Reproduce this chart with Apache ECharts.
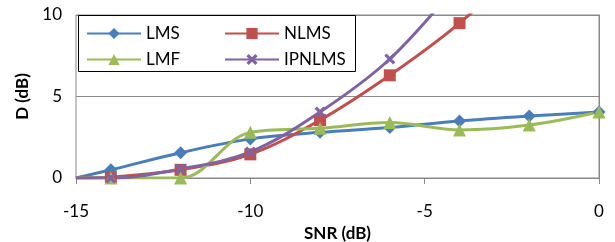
<!DOCTYPE html>
<html>
<head>
<meta charset="utf-8">
<script src="https://cdn.jsdelivr.net/npm/echarts@6/dist/echarts.min.js"></script>
<style>
  html, body { margin: 0; padding: 0; background: #fff; }
  #chart { width: 615px; height: 242px; }
</style>
</head>
<body>
<div id="chart"></div>
<script>
// SNR values (dB) on the x axis
var snr = [-15, -14, -12, -10, -8, -6, -4, -2, 0]
// D (dB) per algorithm
var lms = [0, 0.5, 1.55, 2.4, 2.8, 3.1, 3.5, 3.8, 4.05]
var nlms = [0, 0.05, 0.5, 1.45, 3.55, 6.3, 9.5, 13.5, 18]
var lmf = [0, 0, 0, 2.8, 3.05, 3.4, 2.95, 3.25, 4.05]
var ipnlms = [0, 0, 0.55, 1.6, 4.05, 7.3, 12, 17, 22]
var xTicks = [-15, -10, -5, 0]
var yTicks = [0, 5, 10]

var font = 'Lato, "Open Sans", sans-serif'
var crossPath = 'path://M2,0L5,3L8,0L10,2L7,5L10,8L8,10L5,7L2,10L0,8L3,5L0,2Z'

function pairs (ys) {
  return snr.map(function (x, i) {
    // first point only anchors the line at the axis, no marker there
    if (i === 0) return { value: [x, ys[i]], symbolSize: 0 }
    return [x, ys[i]]
  })
}

function line (name, ys, color, symbol, size) {
  return {
    name: name,
    type: 'line',
    smooth: 0.35,
    data: pairs(ys),
    symbol: symbol,
    symbolSize: size,
    lineStyle: { color: color, width: 3 },
    itemStyle: { color: color },
    clip: true,
    z: 3
  }
}

var myChart = echarts.init(document.getElementById('chart'))
myChart.setOption({
  animation: false,
  grid: {
    left: 76, right: 16, top: 15, bottom: 64,
    outerBoundsMode: 'none',
    show: true, borderColor: '#898989', borderWidth: 1
  },
  // legend frame
  graphic: [{
    type: 'rect',
    shape: { x: 78.5, y: 15.5, width: 277, height: 56 },
    style: { fill: '#fff', stroke: '#000', lineWidth: 1 },
    z: 10
  }],
  legend: [
    {
      data: ['LMS', 'LMF'],
      orient: 'vertical',
      left: 81, top: 20,
      itemWidth: 54, itemHeight: 14, itemGap: 9,
      textStyle: { fontFamily: font, fontSize: 17, color: '#000' },
      z: 11
    },
    {
      data: ['NLMS', 'IPNLMS'],
      orient: 'vertical',
      left: 219, top: 20,
      itemWidth: 54, itemHeight: 14, itemGap: 9,
      textStyle: { fontFamily: font, fontSize: 17, color: '#000' },
      z: 11
    }
  ],
  xAxis: {
    type: 'value',
    min: -15, max: 0, interval: 5,
    name: 'SNR (dB)',
    nameLocation: 'middle',
    nameGap: 44,
    nameTextStyle: { fontFamily: font, fontSize: 17, fontWeight: 'bold', color: '#000' },
    axisLine: { show: true, lineStyle: { color: '#898989', width: 1 } },
    axisTick: { show: true, length: 6, lineStyle: { color: '#898989' } },
    axisLabel: { fontFamily: font, fontSize: 17, color: '#000', margin: 25,
      customValues: xTicks },
    splitLine: { show: false }
  },
  yAxis: {
    type: 'value',
    min: 0, max: 10, interval: 5,
    name: 'D (dB)',
    nameLocation: 'middle',
    nameGap: 43,
    nameTextStyle: { fontFamily: font, fontSize: 17, fontWeight: 'bold', color: '#000' },
    axisLine: { show: true, lineStyle: { color: '#898989', width: 1 } },
    axisTick: { show: true, length: 6, lineStyle: { color: '#898989' } },
    axisLabel: { fontFamily: font, fontSize: 17, color: '#000', margin: 14,
      customValues: yTicks },
    splitLine: { show: true, lineStyle: { color: '#898989', width: 1 } }
  },
  series: [
    line('LMS', lms, '#4a7ebb', 'diamond', 13),
    line('NLMS', nlms, '#c0504d', 'rect', 12),
    line('LMF', lmf, '#9bbb59', 'triangle', 13),
    line('IPNLMS', ipnlms, '#8064a2', crossPath, 11)
  ]
})
</script>
</body>
</html>
